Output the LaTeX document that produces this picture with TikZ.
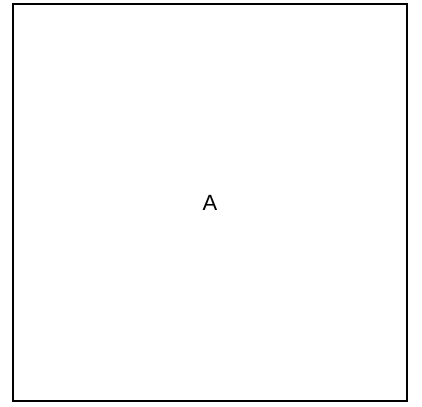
\documentclass[tikz,border=0pt]{standalone}
\usepackage{fontspec}
\setmainfont{Liberation Sans}
\usetikzlibrary{positioning}

\begin{document}
\begin{tikzpicture}[
    x=0.5pt,y=-0.5pt,
    frame/.style={rectangle,draw,line width=1pt,minimum width=197pt,
                  minimum height=198.5pt,inner sep=0pt,font=\fontsize{11}{13}\selectfont}
  ]
    \useasboundingbox (0,0) rectangle (422,406);
    \node[frame] (a) at (210,202.5) {A};
  \end{tikzpicture}
\end{document}
